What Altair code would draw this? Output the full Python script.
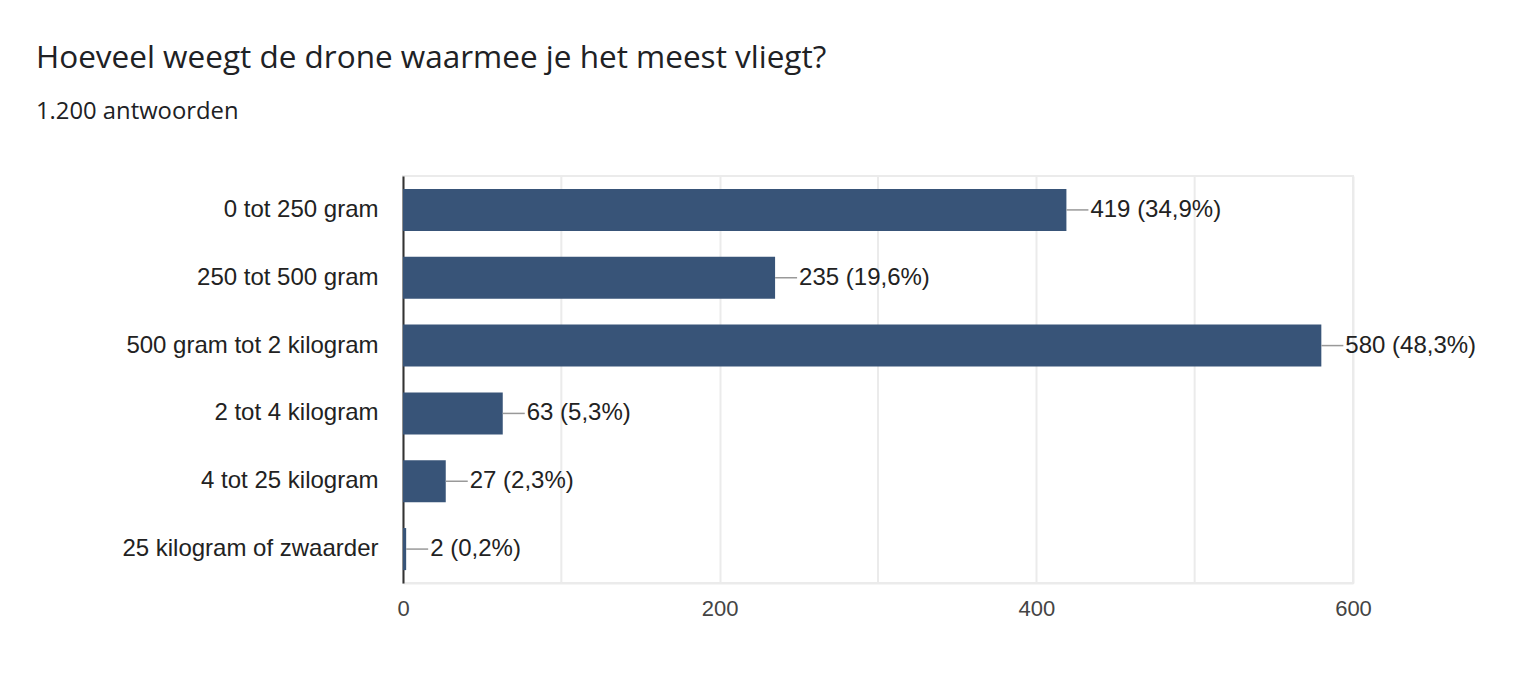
#%%
import pandas as pd
import altair as alt

#%%
# data
categories = ["0 tot 250 gram", "250 tot 500 gram", "500 gram tot 2 kilogram",
              "2 tot 4 kilogram", "4 tot 25 kilogram", "25 kilogram of zwaarder"]
counts = [419, 235, 580, 63, 27, 2]
percents = ["34,9", "19,6", "48,3", "5,3", "2,3", "0,2"]
x_ticks = [0, 200, 400, 600]

df = pd.DataFrame({"cat": categories, "n": counts, "pct": percents})
df["label"] = df["n"].astype(str) + " (" + df["pct"] + "%)"

#%%
bar_color = "#385478"
font = "Liberation Sans"

base = alt.Chart(df).encode(
    y=alt.Y("cat:N", sort=categories, title=None,
            scale=alt.Scale(paddingInner=0.38, paddingOuter=0.19),
            axis=alt.Axis(domainColor="#333333", domainWidth=2, ticks=False,
                          labelPadding=25, labelFont=font, labelFontSize=24,
                          labelColor="#222222", labelLimit=0, grid=False)),
)

bars = base.mark_bar(color=bar_color).encode(
    x=alt.X("n:Q", title=None,
            scale=alt.Scale(domain=[0, 600], nice=False),
            axis=alt.Axis(values=x_ticks, gridColor="#ebebeb", gridWidth=2,
                          domainColor="#ebebeb", domainWidth=2, ticks=False,
                          labelPadding=15, labelFont=font, labelFontSize=22,
                          labelColor="#444444", labelFlush=False)),
)

# vertical gridlines every 100 (labels only every 200)
grid = alt.Chart(pd.DataFrame({"g": [100, 300, 500]})).mark_rule(
    color="#ebebeb", strokeWidth=2).encode(x="g:Q")

leaders = base.mark_rule(color="#999999", strokeWidth=1.5, x2Offset=22).encode(
    x="n:Q", x2="n:Q")

labels = base.mark_text(align="left", baseline="middle", dx=24, font=font,
                        fontSize=24, color="#222222").encode(
    x="n:Q", text="label:N")

chart = (grid + bars + leaders + labels).properties(
    width=950, height=407,
    autosize="none",
    padding={"left": 395, "top": 168, "right": 150, "bottom": 100},
    title=alt.TitleParams(
        "Hoeveel weegt de drone waarmee je het meest vliegt?",
        subtitle="1.200 antwoorden",
        anchor="start", frame="group", dx=-367, dy=-41,
        font="Open Sans", fontSize=31.5, fontWeight="normal", color="#202124",
        subtitleFont="Open Sans", subtitleFontSize=23.8, subtitleColor="#202124",
        subtitlePadding=26, offset=10),
).configure_view(stroke="#ebebeb", strokeWidth=2)

chart.save("out.html", embed_options={"renderer": "svg", "actions": False})
